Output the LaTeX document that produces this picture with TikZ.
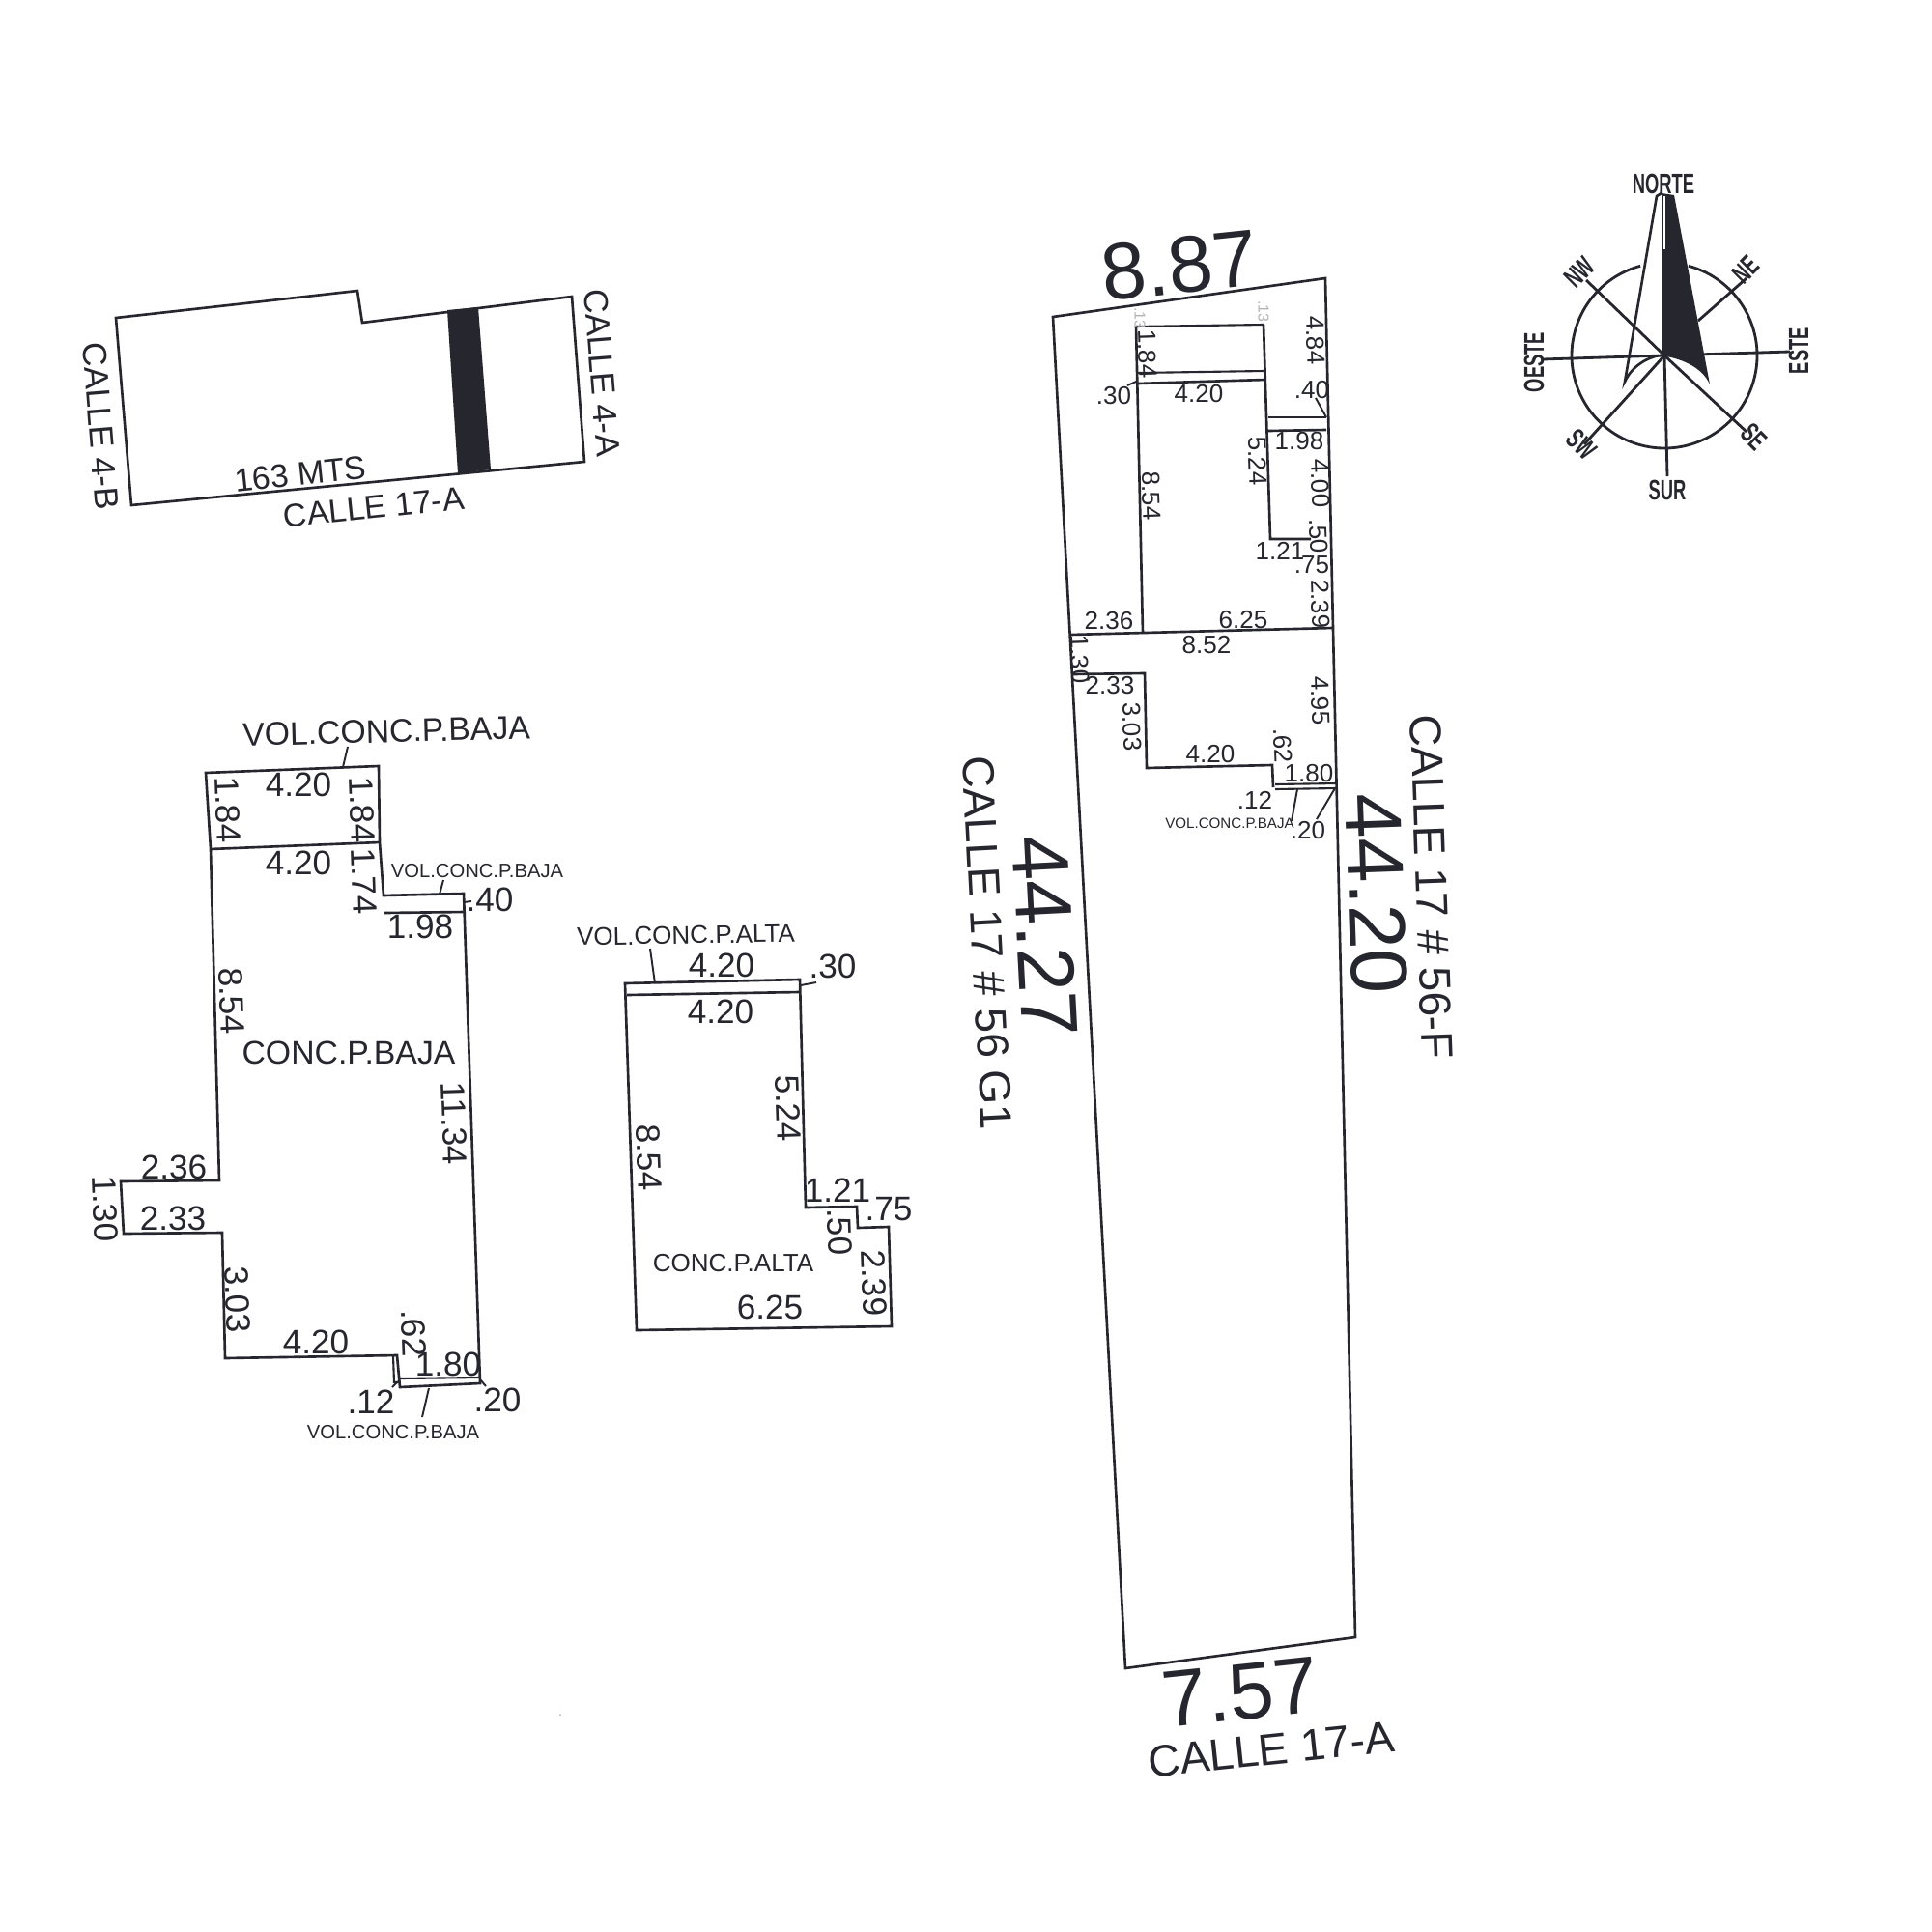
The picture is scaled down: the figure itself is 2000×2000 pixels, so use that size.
\documentclass[tikz,border=0pt]{standalone}
\usepackage{fontspec}
\setmainfont{Liberation Sans}
\definecolor{ink}{HTML}{26262E}
\tikzset{
  px/.style={x=0.01cm,y=-0.01cm},
  wall/.style={draw=ink,line width=0.75pt,line join=miter},
  thin wall/.style={draw=ink,line width=0.6pt},
  leader/.style={draw=ink,line width=0.55pt},
  compass line/.style={draw=ink,line width=0.8pt},
  lb/.style={text=ink,inner sep=0pt,outer sep=0pt,anchor=center},
  huge lb/.style={lb,font=\fontsize{23.6}{23.6}\selectfont},
  street/.style={lb,font=\fontsize{13.1}{13.1}\selectfont},
  dim/.style={lb,font=\fontsize{10}{10}\selectfont},
  mdim/.style={lb,font=\fontsize{7.4}{7.4}\selectfont},
  tag/.style={lb,font=\fontsize{9.6}{9.6}\selectfont},
  stag/.style={lb,font=\fontsize{7.4}{7.4}\selectfont},
  xtag/.style={lb,font=\fontsize{5.75}{5.75}\selectfont},
  mtag/.style={lb,font=\fontsize{4.3}{4.3}\selectfont},
  faint/.style={lb,text=gray!60,font=\fontsize{4.5}{4.5}\selectfont},
  comp/.style={lb,font=\fontsize{8.3}{8.3}\bfseries\selectfont,xscale=.63},
}
\begin{document}
\begin{tikzpicture}[px]
\useasboundingbox[fill=white] (0,0) rectangle (2000,2000);
% --- key plan ---
\draw[wall] (120,329) -- (370,301) -- (375,334) -- (592,307) -- (605,478) -- (136,523) -- cycle;
\fill[ink] (463,321) -- (495,318) -- (508,486) -- (474,490) -- cycle;
\node[tag,rotate=-85.5] (k1) at (104,441) {\fontsize{9.9}{9.9}\selectfont CALLE 4-B};
\node[tag,rotate=-85.5] (k2) at (623,386) {\fontsize{9.9}{9.9}\selectfont CALLE 4-A};
\node[tag,rotate=6] (k3) at (311,491) {163 MTS};
\node[tag,rotate=6] (k4) at (387,525) {CALLE 17-A};
% --- planta baja ---
\draw[wall] (213,800) -- (392,793) -- (393,872) -- (397,927) -- (480,925) -- (497,1432) -- (414,1436) -- (411,1403) -- (233,1406) -- (230,1276) -- (128,1277) -- (125,1223) -- (227,1222) -- (218,879) -- cycle;
\draw[wall] (218,879) -- (393,872);
\draw[wall] (398,945) -- (482,944);
\draw[thin wall] (414,1427) -- (497,1426);
\draw[thin wall] (407,1404) -- (408,1431) -- (413,1431);
\draw[leader] (360,773) -- (355,794);
\draw[leader] (459,911) -- (455,926);
\draw[leader] (444,1437) -- (437,1467);
\draw[leader] (406,1436) -- (412,1430);
\draw[leader] (497,1428) -- (503,1435);
\draw[leader] (480,934) -- (488,933);
\node[tag,rotate=1.5] (a1) at (400,757) {VOL.CONC.P.BAJA};
\node[dim] (a2) at (309,812) {4.20};
\node[dim,rotate=-88] (a3) at (236,838) {1.84};
\node[dim,rotate=-88] (a4) at (375,838) {1.84};
\node[dim] (a5) at (309,893) {4.20};
\node[dim,rotate=-88] (a6) at (377,912) {1.74};
\node[xtag] (a7) at (494,902) {VOL.CONC.P.BAJA};
\node[dim] (a8) at (507,931) {.40};
\node[dim] (a9) at (435,959) {1.98};
\node[dim,rotate=-88] (a10) at (240,1036) {8.54};
\node[tag] (a11) at (361,1090) {CONC.P.BAJA};
\node[dim,rotate=-88] (a12) at (470,1163) {11.34};
\node[dim] (a13) at (180,1208) {2.36};
\node[dim,rotate=-88] (a14) at (109,1251) {1.30};
\node[dim] (a15) at (179,1261) {2.33};
\node[dim,rotate=-88] (a16) at (246,1345) {3.03};
\node[dim] (a17) at (327,1389) {4.20};
\node[dim,rotate=-88] (a18) at (428,1380) {.62};
\node[dim] (a19) at (464,1412) {1.80};
\node[dim] (a20) at (384,1451) {.12};
\node[dim] (a21) at (515,1449) {.20};
\node[xtag] (a22) at (407,1483) {VOL.CONC.P.BAJA};
% --- planta alta ---
\draw[wall] (647,1018) -- (828,1014) -- (834,1250) -- (887,1249) -- (888,1271) -- (920,1270) -- (923,1373) -- (659,1377) -- cycle;
\draw[wall] (649,1030) -- (828,1027);
\draw[leader] (673,982) -- (678,1018);
\draw[leader] (829,1020) -- (845,1017);
\node[stag,rotate=1] (b1) at (710,968) {VOL.CONC.P.ALTA};
\node[dim] (b2) at (747,999) {4.20};
\node[dim] (b3) at (746,1047) {4.20};
\node[dim] (b4) at (862,1000) {.30};
\node[dim,rotate=-88] (b5) at (816,1147) {5.24};
\node[dim,rotate=-88] (b6) at (672,1198) {8.54};
\node[dim] (b7) at (867,1232) {1.21};
\node[dim] (b8) at (920,1252) {.75};
\node[dim,rotate=-88] (b9) at (869,1275) {.50};
\node[stag] (b10) at (759,1308) {CONC.P.ALTA};
\node[dim] (b11) at (797,1353) {6.25};
\node[dim,rotate=-88] (b12) at (905,1328) {2.39};
% --- lote ---
\draw[wall] (1090,328) -- (1372,288) -- (1403,1695) -- (1165,1727) -- cycle;
\draw[wall] (1108,657) -- (1380,650);
\draw[wall] (1176,337) -- (1183,656);
\draw[thin wall] (1176,338) -- (1308,336);
\draw[thin wall] (1178,386) -- (1309,384);
\draw[wall] (1178,397) -- (1310,393);
\draw[wall] (1308,336) -- (1315,558) -- (1357,558);
\draw[thin wall] (1313,432) -- (1373,432);
\draw[wall] (1313,446) -- (1373,445);
\draw[leader] (1176,395) -- (1167,399);
\draw[leader] (1362,412) -- (1373,432);
\draw[wall] (1110,698) -- (1185,697) -- (1187,795) -- (1317,792) -- (1318,815);
\draw[thin wall] (1320,812) -- (1384,811);
\draw[thin wall] (1320,817) -- (1384,816);
\draw[leader] (1343,817) -- (1337,850);
\draw[leader] (1382,816) -- (1363,848);
\node[huge lb,rotate=6] (m1) at (1221,275) {8.87};
\node[huge lb,rotate=-87] (m2) at (1082,969) {44.27};
\node[huge lb,rotate=-88] (m3) at (1425,925) {44.20};
\node[huge lb,rotate=6] (m4) at (1284,1752) {7.57};
\node[street,rotate=-87] (m5) at (1022,976) {CALLE 17 \# 56 G1};
\node[street,rotate=-88] (m6) at (1482,918) {CALLE 17 \# 56-F};
\node[street,rotate=6] (m7) at (1316,1811) {CALLE 17-A};
\node[faint,rotate=-90] (m8) at (1180,329) {.13};
\node[faint,rotate=-90] (m9) at (1308,322) {.13};
\node[mdim] (c1) at (1153,410) {.30};
\node[mdim] (c2) at (1241,408) {4.20};
\node[mdim,rotate=-88] (c3) at (1362,352) {4.84};
\node[mdim] (c4) at (1358,404) {.40};
\node[mdim] (c5) at (1345,457) {1.98};
\node[mdim,rotate=-88] (c6) at (1302,477) {5.24};
\node[mdim,rotate=-88] (c7) at (1367,500) {4.00};
\node[mdim,rotate=-88] (c8) at (1192,513) {8.54};
\node[mdim,rotate=-88] (c9) at (1365,555) {.50};
\node[mdim] (c10) at (1325,570) {1.21};
\node[mdim] (c11) at (1358,585) {.75};
\node[mdim,rotate=-88] (c12) at (1367,625) {2.39};
\node[mdim] (c13) at (1148,643) {2.36};
\node[mdim] (c14) at (1287,642) {6.25};
\node[mdim,rotate=-88] (c15) at (1188,366) {1.84};
\node[mdim] (c16) at (1249,668) {8.52};
\node[mdim,rotate=-88] (c17) at (1118,682) {1.30};
\node[mdim] (c18) at (1149,710) {2.33};
\node[mdim,rotate=-88] (c19) at (1172,752) {3.03};
\node[mdim,rotate=-88] (c20) at (1367,725) {4.95};
\node[mdim] (c21) at (1253,781) {4.20};
\node[mdim,rotate=-88] (c22) at (1328,772) {.62};
\node[mdim] (c23) at (1355,801) {1.80};
\node[mdim] (c24) at (1299,828) {.12};
\node[mtag] (c25) at (1273,852) {VOL.CONC.P.BAJA};
\node[mdim] (c26) at (1354,860) {.20};
% --- compass ---
\coordinate (cc) at (1723,368);
\draw[compass line] (cc) ++(-75:96) arc[start angle=-75,end angle=255,radius=96];
\draw[compass line] (1597,372) -- (cc) -- (1853,364);
\draw[compass line] (cc) -- (1726,493);
\draw[compass line] (1642,290) -- (cc) -- (1808,447);
\draw[compass line] (1640,460) -- (cc);
\draw[compass line] (1758,332) -- (1808,288);
\draw[wall] (1717,368) .. controls (1700,372) and (1688,382) .. (1682,395) -- (1715,203) -- (1720,200);
\fill[ink] (1720,368) -- (1720,200) -- (1733,202) -- (1770,398) .. controls (1763,382) and (1745,372) .. (1720,368) -- cycle;
\draw[white,line width=0.7pt] (1723,203) -- (1723,258);
\node[comp] (n1) at (1722,190) {NORTE};
\node[comp] (n2) at (1726,507) {SUR};
\node[rotate=90,comp] (n3) at (1588,375) {OESTE};
\node[rotate=90,comp] (n4) at (1862,363) {ESTE};
\node[rotate=45,comp] (n5) at (1635,282) {NW};
\node[rotate=45,comp] (n6) at (1807,279) {NE};
\node[rotate=-45,comp] (n7) at (1637,460) {SW};
\node[rotate=-45,comp] (n8) at (1816,452) {SE};
\fill[gray!60] (580,1775) circle[radius=1];
\end{tikzpicture}
\end{document}
